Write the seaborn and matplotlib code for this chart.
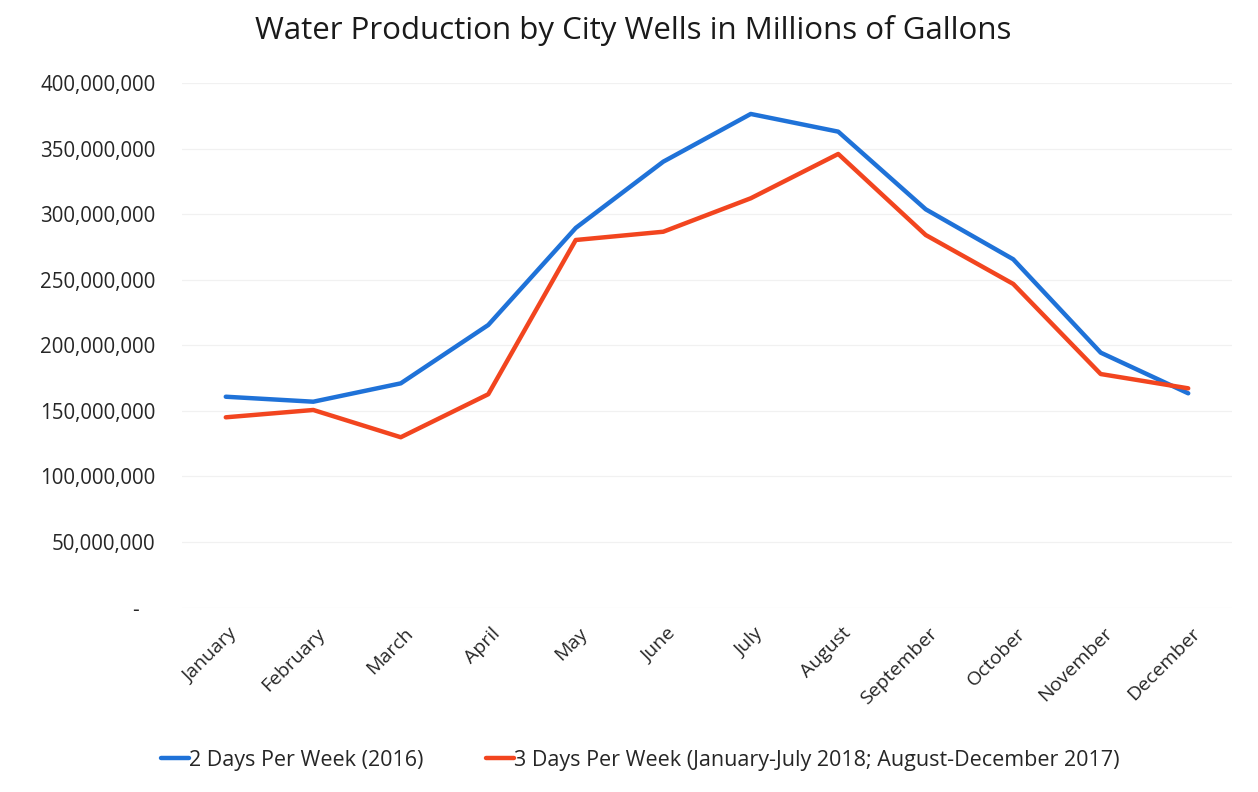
import matplotlib
matplotlib.use("Agg")
import matplotlib.pyplot as plt
import matplotlib.ticker as mticker
import seaborn as sns
import pandas as pd
import numpy as np

months = ["January", "February", "March", "April", "May", "June", "July",
          "August", "September", "October", "November", "December"]
two_days_2016 = [160.8e6, 157.0e6, 171.0e6, 215.5e6, 289.5e6, 340.0e6, 376.4e6,
                 362.9e6, 303.7e6, 265.6e6, 194.4e6, 163.4e6]
three_days = [145.1e6, 150.7e6, 129.9e6, 162.7e6, 280.3e6, 286.6e6, 312.1e6,
              345.9e6, 284.1e6, 246.8e6, 178.1e6, 167.2e6]
series_names = ["2 Days Per Week (2016)",
                "3 Days Per Week (January-July 2018; August-December 2017)"]
y_ticks = [0, 50e6, 100e6, 150e6, 200e6, 250e6, 300e6, 350e6, 400e6]
title = "Water Production by City Wells in Millions of Gallons"

sns.set_theme(style="white")
plt.rcParams["font.family"] = ["Open Sans", "DejaVu Sans"]

df = pd.DataFrame({
    "idx": list(range(len(months))) * 2,
    "value": two_days_2016 + three_days,
    "series": [series_names[0]] * len(months) + [series_names[1]] * len(months),
})

fig = plt.figure(figsize=(12.58, 7.92), dpi=100)
ax = fig.add_axes([0.1447, 0.2328, 0.8346, 0.6624])

palette = {series_names[0]: "#1f72d8", series_names[1]: "#f2451f"}
sns.lineplot(data=df, x="idx", y="value", hue="series", palette=palette,
             linewidth=3.2, sort=False, ax=ax, legend=True)

ax.set_xlim(-0.5, len(months) - 0.5)
ax.set_ylim(0, 400e6)
ax.set_yticks(y_ticks)
ax.yaxis.set_major_formatter(mticker.FuncFormatter(
    lambda v, p: "-   " if v == 0 else f"{int(v):,}"))
ax.set_xticks(range(len(months)))
ax.set_xticklabels(months, rotation=45, ha="right", rotation_mode="anchor")
ax.tick_params(axis="y", labelsize=14.8, colors="#262626", length=0, pad=19)
ax.tick_params(axis="x", labelsize=14, colors="#262626", length=0, pad=2)
for lbl in ax.get_xticklabels():
    lbl.set_transform(lbl.get_transform() + matplotlib.transforms.ScaledTranslation(0.03, -0.14, fig.dpi_scale_trans))

ax.grid(axis="y", color="#f1f1f1", linewidth=0.9)
ax.grid(axis="x", visible=False)
for s in ax.spines.values():
    s.set_visible(False)
ax.set_xlabel("")
ax.set_ylabel("")

fig.text(0.503, 0.962, title, ha="center", va="center", fontsize=22.5, color="#1a1a1a")

handles, labels = ax.get_legend_handles_labels()
ax.legend(handles, labels, loc="center", bbox_to_anchor=(0.509, 0.04),
          bbox_transform=fig.transFigure, ncol=2, frameon=False,
          fontsize=15.5, handlelength=1.3, handletextpad=0.0,
          columnspacing=2.9, labelcolor="#262626")

fig.savefig("out.png", dpi=100, facecolor="white")
